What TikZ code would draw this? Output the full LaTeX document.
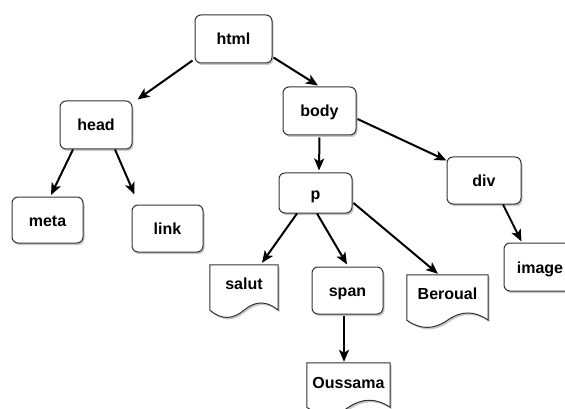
\documentclass[tikz,border=0pt]{standalone}
\usepackage{fontspec}
\setmainfont{Liberation Sans}
\usetikzlibrary{arrows.meta,shadows,calc}
\tikzset{
  shadowed/.style={drop shadow={shadow xshift=1.5pt, shadow yshift=-2pt, opacity=0.22, fill=black}},
  boxline/.style={draw=black!80, line width=1pt, fill=white},
  rbox/.style={shape=rectangle, rounded corners=6pt, boxline, shadowed, inner sep=0pt,
    minimum width=#1, text height=12pt, text depth=0pt,
    font=\bfseries\fontsize{16}{19}\selectfont},
  docnode/.style={shape=rectangle, inner sep=0pt, text height=12pt, text depth=17pt,
    font=\bfseries\fontsize{16}{19}\selectfont},
  arr/.style={line width=2pt, draw=black, -{Stealth[length=12pt, width=10pt, inset=3pt]}}
}
\newcommand\docpath[1]{%
  \draw[boxline, shadowed] let \p1=(#1.north west), \p2=(#1.south east),
    \n1={\x2-\x1}, \n2={\y1-\y2} in
    (\x1,\y1) -- (\x2,\y1) -- (\x2,\y2+0.15*\n2)
    .. controls (\x1+0.8333*\n1,\y2+0.33*\n2) and (\x1+0.6667*\n1,\y2+0.33*\n2) .. (\x1+0.5*\n1,\y2+0.15*\n2)
    .. controls (\x1+0.3333*\n1,\y2-0.03*\n2) and (\x1+0.1667*\n1,\y2-0.03*\n2) .. (\x1,\y2+0.15*\n2)
    -- cycle;}
\begin{document}
\begin{tikzpicture}[x=1pt,y=-1pt]
\useasboundingbox (0,0) rectangle (565,409);
% rounded boxes
\node[rbox=77pt, minimum height=48pt] (html) at (233.5,39) {html};
\node[rbox=72pt, minimum height=48pt] (head) at (96,125) {head};
\node[rbox=71pt, minimum height=46pt] (meta) at (47.5,220) {meta};
\node[rbox=71pt, minimum height=47pt] (link) at (167.5,228.5) {link};
\node[rbox=73pt, minimum height=48pt] (body) at (319.5,111) {body};
\node[rbox=73pt, minimum height=40pt] (p) at (315.5,193) {p};
\node[rbox=74pt, minimum height=47pt] (div) at (484,180.5) {div};
\node[rbox=72pt, minimum height=48pt] (image) at (540,267) {image};
\node[rbox=71pt, minimum height=47pt] (span) at (347.5,290.5) {span};
% document shapes
\node[docnode, minimum width=68pt, minimum height=53pt] (salut) at (244,291.5) {};
\node[docnode, minimum width=81pt, minimum height=53pt] (beroual) at (447.5,301.5) {};
\node[docnode, minimum width=83pt, minimum height=52pt] (oussama) at (348.5,389) {};
\docpath{salut}
\docpath{beroual}
\docpath{oussama}
\node[docnode, minimum width=68pt, minimum height=53pt] (salutT) at (salut) {salut};
\node[docnode, minimum width=81pt, minimum height=53pt] (beroualT) at (beroual) {Beroual};
\node[docnode, minimum width=83pt, minimum height=52pt, text depth=14pt] (oussamaT) at (oussama) {Oussama};
% connectors
\draw[arr] ([shift={(-2,-3)}]html.south west) -- ([shift={(5,-1)}]head.north east);
\draw[arr] ([shift={(1,-6)}]html.south east) -- ([shift={(-1.5,-1)}]body.north);
\draw[arr] ([shift={(-23,0)}]head.south) -- ([shift={(3.5,-1.5)}]meta.north);
\draw[arr] ([shift={(19,0)}]head.south) -- ([shift={(3,-10)}]link.north west);
\draw[arr] ([shift={(0,2)}]body.south) -- ([shift={(3.5,-2)}]p.north);
\draw[arr] ([shift={(1,8)}]body.east) -- ([shift={(0,4)}]div.north west);
\draw[arr] ([shift={(-18.5,0)}]p.south) -- ([shift={(18,-2)}]salut.north);
\draw[arr] ([shift={(1.5,0)}]p.south) -- ([shift={(-0.5,-2)}]span.north);
\draw[arr] ([shift={(1,10)}]p.east) -- ([shift={(-9.5,-1)}]beroual.north);
\draw[arr] ([shift={(19,0)}]div.south) -- ([shift={(18,-1)}]image.north west);
\draw[arr] ([shift={(-3.5,1)}]span.south) -- ([shift={(-4.5,-1)}]oussama.north);
\end{tikzpicture}
\end{document}
